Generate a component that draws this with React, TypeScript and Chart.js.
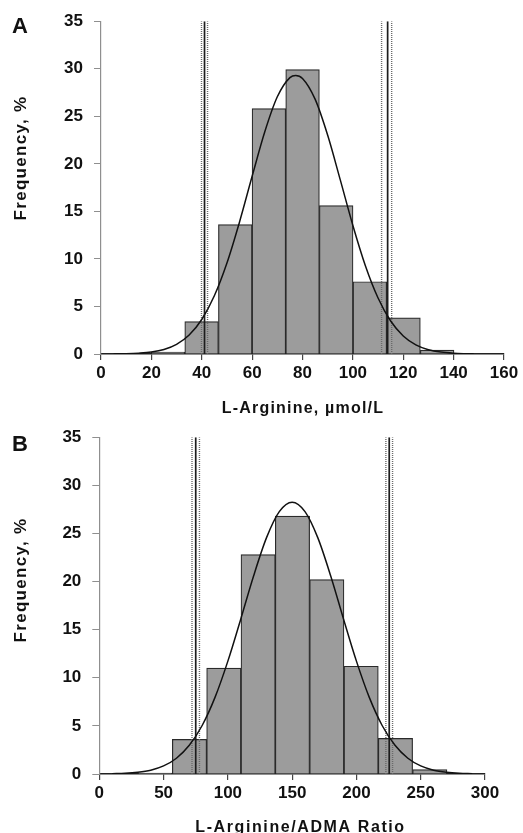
import React, { useEffect, useRef } from "react";
import { Chart, registerables } from "chart.js";

Chart.register(...registerables);

// ---------- Panel A: L-Arginine ----------
const binCentersA = [26.58, 39.94, 53.3, 66.66, 80.02, 93.38, 106.74, 120.1, 133.46];
const freqA = [0.2, 3.4, 13.6, 25.8, 29.9, 15.6, 7.6, 3.8, 0.4];
const curveXA = [5, 10, 15, 20, 25, 30, 35, 40, 45, 50, 55, 60, 65, 70, 75, 77.3, 80, 85, 90, 95, 100, 105, 110, 115, 120, 125, 130, 135, 140, 145, 148];
const curveYA = [0.01, 0.03, 0.09, 0.21, 0.48, 1.02, 2.0, 3.63, 6.12, 9.57, 13.89, 18.69, 23.35, 27.05, 29.07, 29.3, 28.98, 26.8, 23.0, 18.31, 13.52, 9.26, 5.89, 3.47, 1.9, 0.96, 0.45, 0.2, 0.08, 0.03, 0.01];
const solidLinesA = [41.1, 113.8];
const dottedLinesA = [39.9, 42.3, 111.4, 115.4];
const xMaxA = 160;
const xStepA = 20;

// ---------- Panel B: L-Arginine/ADMA ratio ----------
const binCentersB = [43.45, 70.15, 96.85, 123.55, 150.25, 176.95, 203.65, 230.35, 257.05];
const freqB = [0.1, 3.6, 11.0, 22.8, 26.8, 20.2, 11.2, 3.7, 0.45];
const curveXB = [10, 20, 30, 40, 50, 60, 70, 80, 90, 100, 110, 120, 130, 140, 150, 160, 170, 180, 190, 200, 210, 220, 230, 240, 250, 260, 270, 280, 290];
const curveYB = [0.03, 0.07, 0.18, 0.4, 0.84, 1.64, 2.98, 5.04, 7.96, 11.73, 16.09, 20.58, 24.54, 27.27, 28.25, 27.27, 24.54, 20.58, 16.09, 11.73, 7.96, 5.04, 2.98, 1.64, 0.84, 0.4, 0.18, 0.07, 0.03];
const solidLinesB = [75.0, 225.5];
const dottedLinesB = [72.1, 77.9, 222.9, 228.1];
const xMaxB = 300;
const xStepB = 50;

// shared y axis
const yMax = 35;
const yStep = 5;
const yTitle = "Frequency, %";

const FONT = '"Liberation Sans", Arial, Helvetica, sans-serif';

type PanelCfg = {
  letter: string;
  xTitle: string;
  centers: number[];
  freq: number[];
  cx: number[];
  cy: number[];
  solid: number[];
  dotted: number[];
  xMax: number;
  xStep: number;
  width: number;
  height: number;
  pad: { top: number; right: number };
  yAxisWidth: number;
  xAxisHeight: number;
  letterPos: [number, number];
  yTitlePos: [number, number];
  xTitlePos: [number, number];
  xTitleSpacing: number;
};

function makeChart(canvas: HTMLCanvasElement, p: PanelCfg) {
  const vline = (x: number, dotted: boolean) => ({
    type: "line" as const,
    data: [
      { x, y: 0 },
      { x, y: yMax },
    ],
    borderColor: dotted ? "#6a6a6a" : "#1c1c1c",
    borderWidth: dotted ? 1.4 : 1.7,
    borderDash: dotted ? [1, 1] : [],
    pointRadius: 0,
    order: 1,
  });

  const textPlugin = {
    id: "panelText",
    afterDraw(chart: any) {
      const ctx = chart.ctx as CanvasRenderingContext2D;
      ctx.save();
      ctx.fillStyle = "#111";
      ctx.textBaseline = "alphabetic";
      ctx.textAlign = "left";
      ctx.font = `bold 22px ${FONT}`;
      ctx.fillText(p.letter, p.letterPos[0], p.letterPos[1]);

      (ctx as any).letterSpacing = `${p.xTitleSpacing}px`;
      ctx.font = `bold 16px ${FONT}`;
      ctx.textAlign = "center";
      ctx.fillText(p.xTitle, p.xTitlePos[0], p.xTitlePos[1]);

      (ctx as any).letterSpacing = "1.3px";
      ctx.font = `bold 17px ${FONT}`;
      ctx.translate(p.yTitlePos[0], p.yTitlePos[1]);
      ctx.rotate(-Math.PI / 2);
      ctx.fillText(yTitle, 0, 0);
      ctx.restore();
    },
  };

  return new Chart(canvas, {
    type: "bar",
    data: {
      datasets: [
        {
          type: "line" as const,
          data: p.cx.map((x, i) => ({ x, y: p.cy[i] })),
          borderColor: "#111",
          borderWidth: 1.5,
          pointRadius: 0,
          cubicInterpolationMode: "monotone",
          order: 0,
        } as any,
        ...p.solid.map((x) => vline(x, false)),
        ...p.dotted.map((x) => vline(x, true)),
        {
          type: "bar" as const,
          data: p.centers.map((x, i) => ({ x, y: p.freq[i] })),
          backgroundColor: "#9c9c9c",
          borderColor: "#2a2a2a",
          borderWidth: 1.2,
          barPercentage: 1,
          categoryPercentage: 1,
          order: 5,
        } as any,
      ],
    },
    options: {
      responsive: false,
      animation: false,
      layout: { padding: { left: 0, top: p.pad.top, right: p.pad.right, bottom: 0 } },
      plugins: { legend: { display: false }, tooltip: { enabled: false }, title: { display: false } },
      scales: {
        x: {
          type: "linear",
          min: 0,
          max: p.xMax,
          offset: false,
          grid: { offset: false, drawOnChartArea: false, drawTicks: true, tickLength: 6, color: "#444", lineWidth: 1.2 },
          border: { display: true, color: "#222", width: 1.6 },
          ticks: { stepSize: p.xStep, color: "#111", font: { family: FONT, size: 17, weight: "bold" }, padding: 3, maxRotation: 0 },
          afterFit(scale: any) {
            scale.height = p.xAxisHeight;
          },
        },
        y: {
          type: "linear",
          min: 0,
          max: yMax,
          grid: { drawOnChartArea: false, drawTicks: true, tickLength: 7, color: "#8f8f8f" },
          border: { display: true, color: "#8f8f8f", width: 1.2 },
          ticks: { stepSize: yStep, color: "#111", font: { family: FONT, size: 17, weight: "bold" }, padding: 11 },
          afterFit(scale: any) {
            scale.width = p.yAxisWidth;
          },
        },
      },
    },
    plugins: [textPlugin],
  } as any);
}

const panelA: PanelCfg = {
  letter: "A",
  xTitle: "L-Arginine, µmol/L",
  centers: binCentersA,
  freq: freqA,
  cx: curveXA,
  cy: curveYA,
  solid: solidLinesA,
  dotted: dottedLinesA,
  xMax: xMaxA,
  xStep: xStepA,
  width: 523,
  height: 416,
  pad: { top: 17, right: 19 },
  yAxisWidth: 101,
  xAxisHeight: 62,
  letterPos: [12, 33.3],
  yTitlePos: [26, 158],
  xTitlePos: [303, 412.5],
  xTitleSpacing: 1.2,
};

const panelB: PanelCfg = {
  letter: "B",
  xTitle: "L-Arginine/ADMA Ratio",
  centers: binCentersB,
  freq: freqB,
  cx: curveXB,
  cy: curveYB,
  solid: solidLinesB,
  dotted: dottedLinesB,
  xMax: xMaxB,
  xStep: xStepB,
  width: 523,
  height: 417,
  pad: { top: 20.7, right: 38 },
  yAxisWidth: 99.3,
  xAxisHeight: 59,
  letterPos: [12, 34.7],
  yTitlePos: [26, 164],
  xTitlePos: [300.5, 416],
  xTitleSpacing: 1.6,
};

function Panel({ cfg, top }: { cfg: PanelCfg; top: number }) {
  const ref = useRef<HTMLCanvasElement | null>(null);
  useEffect(() => {
    if (!ref.current) return;
    const chart = makeChart(ref.current, cfg);
    return () => chart.destroy();
  }, [cfg]);
  return (
    <canvas
      ref={ref}
      width={cfg.width}
      height={cfg.height}
      style={{ position: "absolute", left: 0, top, width: cfg.width, height: cfg.height, display: "block" }}
    />
  );
}

export default function App() {
  return (
    <div style={{ position: "absolute", left: 0, top: 0, width: 523, height: 833, background: "#fff", overflow: "hidden" }}>
      <Panel cfg={panelA} top={0} />
      <Panel cfg={panelB} top={416} />
    </div>
  );
}
